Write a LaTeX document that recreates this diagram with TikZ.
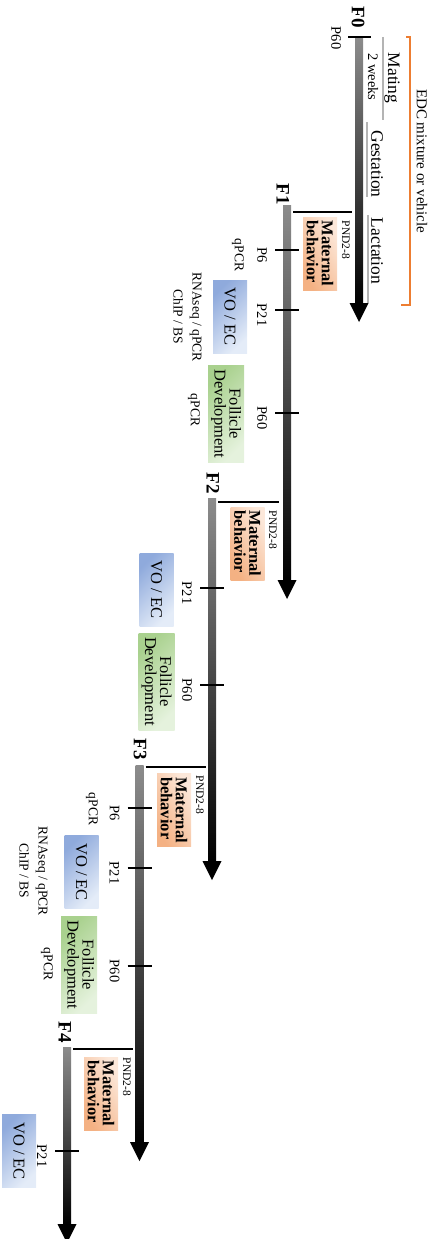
\documentclass[tikz,border=0pt]{standalone}
\usepackage{fontspec}
\setmainfont{Liberation Serif}
\usepackage{tikz}
\usetikzlibrary{calc}
\definecolor{barT}{HTML}{8C8C8C}
\definecolor{edc}{HTML}{ED7D31}
\definecolor{phase}{HTML}{B4B4B4}
\definecolor{matD}{HTML}{F4B183}
\definecolor{matL}{HTML}{FCE8DA}
\definecolor{voD}{HTML}{8FAADC}
\definecolor{voL}{HTML}{E4ECF8}
\definecolor{folD}{HTML}{A9D18E}
\definecolor{folL}{HTML}{E5F2DD}
\tikzset{
  rot/.style={rotate=-90,inner sep=0pt},
  gen/.style={rot,font=\fontsize{19}{19}\selectfont\bfseries},
  day/.style={rot,font=\fontsize{14.5}{15}\selectfont},
  pnd/.style={rot,font=\fontsize{11.5}{12}\selectfont},
  phasetxt/.style={rot,font=\fontsize{17.5}{18}\selectfont},
  phaseline/.style={phase,line width=2pt},
  tickline/.style={line width=2.5pt},
  matbox/.style={rot,align=left,font=\fontsize{16.5}{15}\selectfont\bfseries,
    top color=matD,bottom color=matL,shading angle=120,minimum width=73pt,minimum height=34pt},
  vobox/.style={rot,font=\fontsize{16.5}{15}\selectfont,
    top color=voD,bottom color=voL,shading angle=45,minimum width=73pt,minimum height=34pt},
  folbox/.style={rot,align=center,font=\fontsize{16.5}{15}\selectfont,
    top color=folD,bottom color=folL,shading angle=45,minimum width=97pt,minimum height=36pt},
  assay/.style={rot,align=center,font=\fontsize{13.5}{19}\selectfont},
}
\newcommand{\timeline}[3]{%
  \shade[top color=barT,bottom color=black] (#1-4,#2) rectangle (#1+4,#3-18);
  \fill (#1-9.5,#3-19) -- (#1+9.5,#3-19) -- (#1,#3) -- cycle;
}
\newcommand{\daytick}[4]{%
  \draw[tickline] (#2-12,#3) -- (#2+12,#3);
  \node[day] (#1) at (#2-25,#3+5) {#4};
}
\newcommand{\pndmark}[4]{%
  \draw[tickline] (#2+6,#3) -- (#4,#3);
  \node[pnd] (#1) at (#4-6,#3+28) {PND2-8};
}

\begin{document}
\begin{tikzpicture}[x=1pt,y=-1pt]
\useasboundingbox (0,0) rectangle (431,1239);
% F0
\timeline{359}{37}{322}
\draw[tickline] (348,37) -- (371,37);
\node[gen] (f0) at (358,17) {F0};
\node[day] (f0p60) at (336,38) {P60};
\draw[phaseline] (383,37) -- (383,120);
\draw[phaseline] (367,122) -- (367,197);
\draw[phaseline] (368,215) -- (368,303);
\node[phasetxt] (mating) at (392,78) {Mating};
\node[day] (weeks) at (373,77) {2 weeks};
\node[phasetxt] (gest) at (377,164) {Gestation};
\node[phasetxt] (lact) at (377,251) {Lactation};
\draw[edc,line width=2pt] (406,37) -- (410,37) -- (410,305) -- (401,305);
\node[phasetxt,font=\fontsize{15}{15}\selectfont] (edcmix) at (422,161) {EDC mixture or vehicle};
% F1
\timeline{287}{205}{599}
\node[gen] (f1) at (283,194) {F1};
\pndmark{pnd1}{287}{212}{352}
\node[matbox] (mat1) at (320,253.5) {Maternal\\behavior};
\daytick{f1p6}{287}{250}{P6}
\daytick{f1p21}{287}{310}{P21}
\daytick{f1p60}{287}{413}{P60}
\node[assay] (q1a) at (238,255) {qPCR};
\node[vobox] (vo1) at (230,316.5) {VO / EC};
\node[assay] (seq1) at (187.5,317) {RNAseq / qPCR\\ChIP / BS};
\node[folbox] (fol1) at (226,414) {Follicle\\Development};
\node[assay] (q1b) at (194,410) {qPCR};
% F2
\timeline{212}{498}{880}
\node[gen] (f2) at (213,483) {F2};
\pndmark{pnd2}{212}{502}{279}
\node[matbox] (mat2) at (247.5,543.5) {Maternal\\behavior};
\daytick{f2p21}{212}{588}{P21}
\daytick{f2p60}{212}{685}{P60}
\node[vobox] (vo2) at (156.5,589.5) {VO / EC};
\node[folbox] (fol2) at (156.5,681.5) {Follicle\\Development};
% F3
\timeline{139.5}{765}{1161}
\node[gen] (f3) at (140,749) {F3};
\pndmark{pnd3}{139.5}{767}{206}
\node[matbox] (mat3) at (174,810) {Maternal\\behavior};
\daytick{f3p6}{139.5}{808}{P6}
\daytick{f3p21}{139.5}{868}{P21}
\daytick{f3p60}{139.5}{966}{P60}
\node[assay] (q3a) at (92,809) {qPCR};
\node[vobox] (vo3) at (81.5,872) {VO / EC};
\node[assay] (seq3) at (33.5,871) {RNAseq / qPCR\\ChIP / BS};
\node[folbox] (fol3) at (79,965) {Follicle\\Development};
\node[assay] (q3b) at (47,964) {qPCR};
% F4
\timeline{67}{1047}{1243}
\node[gen] (f4) at (65,1032) {F4};
\pndmark{pnd4}{67}{1049}{133}
\node[matbox] (mat4) at (101,1093.5) {Maternal\\behavior};
\daytick{f4p21}{67}{1151}{P21}
\node[vobox] (vo4) at (19,1151) {VO / EC};
\end{tikzpicture}
\end{document}
